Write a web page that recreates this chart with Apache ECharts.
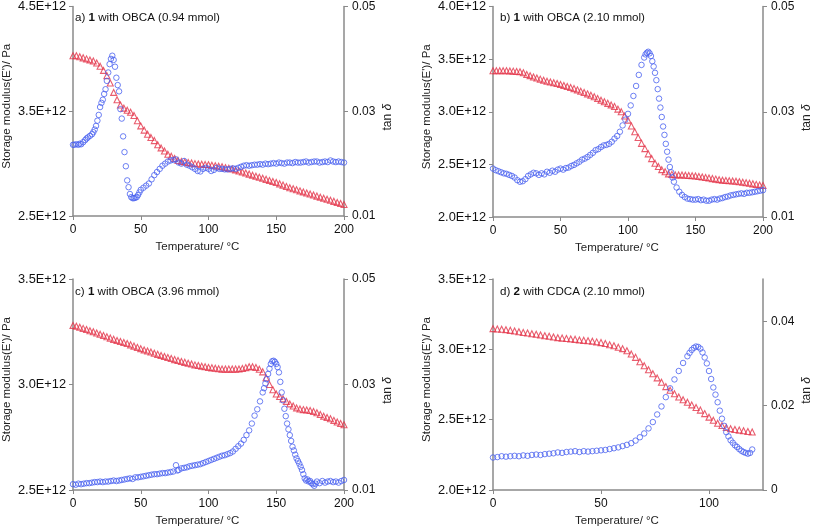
<!DOCTYPE html>
<html>
<head>
<meta charset="utf-8">
<script src="https://cdn.jsdelivr.net/npm/echarts@6/dist/echarts.min.js"></script>
<style>
html,body{margin:0;padding:0;background:#fff;}
#c{width:814px;height:528px;}
</style>
</head>
<body>
<div id="c"></div>
<script>
// ---- Panel a: 1 with OBCA (0.94 mmol) ----
const aT_E = [0,2.5,5,7.5,10,12.5,15,17.5,20,22.5,25,27.5,30,32.5,35,37.5,40,42.5,45,47.5,50,52.5,55,57.5,60,62.5,65,67.5,70,72.5,75,77.5,80,82.5,85,87.5,90,92.5,95,97.5,100,102.5,105,107.5,110,112.5,115,117.5,120,122.5,125,127.5,130,132.5,135,137.5,140,142.5,145,147.5,150,152.5,155,157.5,160,162.5,165,167.5,170,172.5,175,177.5,180,182.5,185,187.5,190,192.5,195,197.5,200];
const aE   = [4.03,4.03,4.02,4.01,4.00,3.99,3.98,3.96,3.93,3.89,3.84,3.77,3.68,3.61,3.56,3.53,3.51,3.49,3.46,3.41,3.36,3.32,3.28,3.25,3.22,3.18,3.15,3.12,3.09,3.07,3.05,3.03,3.02,3.015,3.01,3.005,3.00,2.997,2.995,2.992,2.99,2.985,2.98,2.975,2.97,2.962,2.955,2.948,2.94,2.93,2.92,2.91,2.90,2.89,2.88,2.87,2.86,2.85,2.84,2.83,2.82,2.807,2.795,2.782,2.77,2.76,2.75,2.74,2.73,2.72,2.71,2.70,2.69,2.68,2.67,2.66,2.65,2.64,2.63,2.62,2.61];
const aT_tan = [0,1,2.5,4,5,6,7.5,9,10,11,12.5,14,15,16,17,18,19,20,21,22,23,24,25,26,27,28,29,30,31,32,33,34,35,36,37,38,39,40,41,42,43,44,45,46,47,48,49,50,52,54,56,58,60,62,64,66,68,70,72,74,76,78,80,82,84,86,88,90,92,94,96,98,100,102,104,106,108,110,112,114,116,118,120,122,124,126,128,130,132,134,136,138,140,142,144,146,148,150,152,154,156,158,160,162,164,166,168,170,172,174,176,178,180,182,184,186,188,190,192,194,196,198,200];
const aTan   = [0.0236,0.0236,0.0237,0.0236,0.0238,0.0237,0.0241,0.0245,0.0248,0.0250,0.0253,0.0256,0.0260,0.0265,0.0272,0.0282,0.0293,0.0308,0.0316,0.0322,0.0333,0.0342,0.0358,0.0374,0.0390,0.0400,0.0406,0.0398,0.0385,0.0364,0.0350,0.0338,0.0304,0.0286,0.0252,0.0222,0.0195,0.0168,0.0155,0.0142,0.0136,0.0134,0.0134,0.0135,0.0136,0.0140,0.0145,0.0150,0.0154,0.0158,0.0162,0.0170,0.0178,0.0184,0.0190,0.0196,0.0200,0.0204,0.0206,0.0207,0.0208,0.0202,0.0200,0.0205,0.0198,0.0196,0.0193,0.0190,0.0186,0.0185,0.0190,0.0192,0.0190,0.0186,0.0188,0.0192,0.0190,0.0190,0.0189,0.0189,0.0190,0.0191,0.0190,0.0192,0.0194,0.0196,0.0197,0.0196,0.0197,0.0198,0.0198,0.0199,0.0198,0.0200,0.0199,0.0200,0.0201,0.0200,0.0202,0.0201,0.0200,0.0202,0.0202,0.0201,0.0203,0.0202,0.0202,0.0203,0.0204,0.0202,0.0203,0.0204,0.0204,0.0202,0.0203,0.0204,0.0203,0.0206,0.0204,0.0203,0.0204,0.0203,0.0202];

// ---- Panel b: 1 with OBCA (2.10 mmol) ----
const bT_E = [0,2.5,5,7.5,10,12.5,15,17.5,20,22.5,25,27.5,30,32.5,35,37.5,40,42.5,45,47.5,50,52.5,55,57.5,60,62.5,65,67.5,70,72.5,75,77.5,80,82.5,85,87.5,90,92.5,95,97.5,100,102.5,105,107.5,110,112.5,115,117.5,120,122.5,125,127.5,130,132.5,135,137.5,140,142.5,145,147.5,150,152.5,155,157.5,160,162.5,165,167.5,170,172.5,175,177.5,180,182.5,185,187.5,190,192.5,195,197.5,200];
const bE   = [3.39,3.39,3.39,3.39,3.39,3.388,3.386,3.383,3.38,3.37,3.355,3.343,3.33,3.32,3.31,3.30,3.29,3.283,3.275,3.268,3.26,3.25,3.24,3.23,3.22,3.208,3.195,3.183,3.17,3.157,3.143,3.127,3.11,3.095,3.08,3.065,3.05,3.025,3.00,2.96,2.92,2.865,2.81,2.755,2.70,2.65,2.60,2.555,2.51,2.48,2.45,2.43,2.41,2.405,2.40,2.40,2.40,2.397,2.395,2.392,2.39,2.385,2.38,2.375,2.37,2.365,2.36,2.355,2.35,2.347,2.345,2.342,2.34,2.335,2.33,2.325,2.32,2.315,2.31,2.305,2.30];
const bT_tan = [0,2,4,6,8,10,12,14,16,18,20,22,24,26,28,30,32,34,36,38,40,42,44,46,48,50,52,54,56,58,60,62,64,66,68,70,72,74,76,78,80,82,84,86,88,90,92,94,96,98,100,102,104,106,108,110,112,113,114,115,116,117,118,119,120,121,122,123,124,125,126,127,128,129,130,131,132,133,134,136,138,140,142,144,146,148,150,152,154,156,158,160,162,164,166,168,170,172,174,176,178,180,182,184,186,188,190,192,194,196,198,200];
const bTan   = [0.0192,0.0189,0.0187,0.0185,0.0183,0.0182,0.0180,0.0178,0.0175,0.0170,0.0167,0.0168,0.0172,0.0178,0.0181,0.0184,0.0183,0.0180,0.0183,0.0181,0.0186,0.0184,0.0188,0.0186,0.0190,0.0192,0.0190,0.0193,0.0194,0.0197,0.0199,0.0202,0.0205,0.0209,0.0211,0.0214,0.0218,0.0222,0.0227,0.0229,0.0233,0.0236,0.0237,0.0239,0.0243,0.0249,0.0254,0.0262,0.0274,0.0285,0.0296,0.0312,0.0330,0.0349,0.0370,0.0389,0.0403,0.0409,0.0412,0.0414,0.0411,0.0406,0.0396,0.0386,0.0374,0.0360,0.0343,0.0325,0.0308,0.0290,0.0272,0.0256,0.0239,0.0224,0.0209,0.0195,0.0185,0.0175,0.0167,0.0156,0.0148,0.0142,0.0138,0.0135,0.0134,0.0133,0.0133,0.0134,0.0132,0.0133,0.0131,0.0131,0.0133,0.0134,0.0133,0.0135,0.0136,0.0138,0.0139,0.0141,0.0142,0.0143,0.0144,0.0145,0.0144,0.0146,0.0146,0.0147,0.0148,0.0149,0.0150,0.0151];

// ---- Panel c: 1 with OBCA (3.96 mmol) ----
const cT_E = [0,2.5,5,7.5,10,12.5,15,17.5,20,22.5,25,27.5,30,32.5,35,37.5,40,42.5,45,47.5,50,52.5,55,57.5,60,62.5,65,67.5,70,72.5,75,77.5,80,82.5,85,87.5,90,92.5,95,97.5,100,102.5,105,107.5,110,112.5,115,117.5,120,122.5,125,127.5,130,132.5,135,137.5,140,142.5,145,147.5,150,152.5,155,157.5,160,162.5,165,167.5,170,172.5,175,177.5,180,182.5,185,187.5,190,192.5,195,197.5,200];
const cE   = [3.280,3.276,3.271,3.266,3.261,3.255,3.250,3.244,3.238,3.232,3.226,3.220,3.214,3.209,3.204,3.199,3.194,3.188,3.182,3.176,3.170,3.164,3.159,3.154,3.148,3.143,3.138,3.133,3.128,3.123,3.118,3.114,3.109,3.105,3.101,3.097,3.093,3.090,3.087,3.084,3.081,3.079,3.077,3.075,3.073,3.073,3.073,3.073,3.073,3.074,3.076,3.080,3.084,3.084,3.081,3.072,3.060,3.032,3.000,2.975,2.955,2.943,2.932,2.920,2.908,2.898,2.889,2.884,2.881,2.879,2.877,2.872,2.866,2.858,2.850,2.844,2.838,2.830,2.822,2.815,2.809];
const cT_tan = [0,2,4,6,8,10,12,14,16,18,20,22,24,26,28,30,32,34,36,38,40,42,44,46,48,50,52,54,56,58,60,62,64,66,68,70,72,74,76,77,78,80,82,84,86,88,90,92,94,96,98,100,102,104,106,108,110,112,114,116,118,120,122,124,126,128,130,132,134,136,138,140,141,142,143,144,145,146,147,148,149,150,151,152,153,154,155,156,157,158,159,160,161,162,163,164,165,166,167,168,169,170,171,172,173,174,175,176,177,178,179,180,182,184,186,188,190,192,194,196,198,200];
const cTan   = [0.0111,0.0110,0.0112,0.0111,0.0112,0.0113,0.0113,0.0114,0.0115,0.0115,0.0116,0.0115,0.0116,0.0116,0.0117,0.0118,0.0117,0.0118,0.0119,0.0120,0.0121,0.0122,0.0121,0.0124,0.0124,0.0125,0.0126,0.0127,0.0128,0.0129,0.0130,0.0130,0.0131,0.0132,0.0132,0.0133,0.0134,0.0135,0.0147,0.0137,0.0138,0.0141,0.0142,0.0143,0.0145,0.0146,0.0147,0.0148,0.0149,0.0151,0.0153,0.0155,0.0157,0.0159,0.0161,0.0163,0.0165,0.0166,0.0168,0.0170,0.0173,0.0178,0.0183,0.0188,0.0195,0.0204,0.0213,0.0226,0.0241,0.0253,0.0268,0.0285,0.0293,0.0302,0.0310,0.0320,0.0330,0.0339,0.0344,0.0345,0.0343,0.0339,0.0333,0.0323,0.0305,0.0285,0.0270,0.0254,0.0240,0.0226,0.0215,0.0204,0.0193,0.0182,0.0175,0.0167,0.0160,0.0155,0.0150,0.0144,0.0138,0.0130,0.0122,0.0118,0.0120,0.0116,0.0117,0.0113,0.0111,0.0108,0.0112,0.0116,0.0113,0.0117,0.0114,0.0116,0.0117,0.0115,0.0116,0.0114,0.0117,0.0119];

// ---- Panel d: 2 with CDCA (2.10 mmol) ----
const dT_E = [0,2,4,6,8,10,12,14,16,18,20,22,24,26,28,30,32,34,36,38,40,42,44,46,48,50,52,54,56,58,60,62,64,66,68,70,72,74,76,78,80,82,84,86,88,90,92,94,96,98,100,102,104,106,108,110,112,114,116,118,120];
const dE   = [3.147,3.145,3.143,3.140,3.135,3.130,3.125,3.120,3.116,3.111,3.107,3.102,3.097,3.093,3.088,3.083,3.080,3.077,3.074,3.071,3.067,3.064,3.061,3.058,3.053,3.048,3.041,3.033,3.025,3.015,3.005,2.990,2.967,2.943,2.912,2.883,2.855,2.826,2.797,2.766,2.735,2.709,2.684,2.661,2.642,2.624,2.605,2.586,2.568,2.543,2.518,2.496,2.474,2.458,2.445,2.436,2.430,2.426,2.421,2.416,2.412];
const dT_tan = [0,2,4,6,8,10,12,14,16,18,20,22,24,26,28,30,32,34,36,38,40,42,44,46,48,50,52,54,56,58,60,62,64,66,68,70,72,74,76,78,80,82,84,86,88,90,91,92,93,94,95,96,97,98,99,100,101,102,103,104,105,106,107,108,109,110,111,112,113,114,115,116,117,118,119,120];
const dTan   = [0.0077,0.0078,0.0080,0.0079,0.0080,0.0081,0.0080,0.0082,0.0081,0.0083,0.0084,0.0083,0.0085,0.0086,0.0087,0.0089,0.0088,0.0090,0.0091,0.0092,0.0090,0.0092,0.0091,0.0092,0.0093,0.0094,0.0095,0.0097,0.0099,0.0101,0.0104,0.0107,0.0111,0.0117,0.0125,0.0134,0.0146,0.0161,0.0179,0.0198,0.0220,0.0241,0.0262,0.0282,0.0301,0.0317,0.0325,0.0332,0.0337,0.0340,0.0339,0.0335,0.0326,0.0314,0.0300,0.0282,0.0263,0.0243,0.0226,0.0208,0.0188,0.0169,0.0152,0.0137,0.0127,0.0118,0.0112,0.0106,0.0102,0.0097,0.0093,0.0090,0.0088,0.0086,0.0088,0.0096];

const panels = [
  {lbl:'a)', num:'1', rest:' with OBCA (0.94 mmol)', tE:aT_E, E:aE, tT:aT_tan, T:aTan,
   grid:{left:68,top:5,width:276,height:211}, xMax:200, eMin:2.5, eMax:4.5, eInt:1, tMin:0.01, tMax:0.05, tInt:0.02},
  {lbl:'b)', num:'1', rest:' with OBCA (2.10 mmol)', tE:bT_E, E:bE, tT:bT_tan, T:bTan,
   grid:{left:493,top:5,width:278,height:212}, xMax:200, eMin:2.0, eMax:4.0, eInt:0.5, tMin:0.01, tMax:0.05, tInt:0.02},
  {lbl:'c)', num:'1', rest:' with OBCA (3.96 mmol)', tE:cT_E, E:cE, tT:cT_tan, T:cTan,
   grid:{left:68,top:279,width:276,height:212}, xMax:200, eMin:2.5, eMax:3.5, eInt:0.5, tMin:0.01, tMax:0.05, tInt:0.02},
  {lbl:'d)', num:'2', rest:' with CDCA (2.10 mmol)', tE:dT_E, E:dE, tT:dT_tan, T:dTan,
   grid:{left:493,top:279,width:279,height:212}, xMax:125, eMin:2.0, eMax:3.5, eInt:0.5, tMin:0, tMax:0.05, tInt:0.02}
];

const FONT = 'Liberation Sans, Arial, sans-serif';
const AX = '#8a8a8a';
const RED = '#e3344a';
const BLUE = '#4a62f0';

const option = {backgroundColor:'#fff', animation:false, grid:[], xAxis:[], yAxis:[], series:[], title:[]};

panels.forEach((p,i)=>{
  option.grid.push(Object.assign({containLabel:false}, p.grid));
  option.xAxis.push({
    type:'value', gridIndex:i, min:0, max:p.xMax, interval:50,
    name:'Temperature/ °C', nameLocation:'middle', nameGap:25,
    nameTextStyle:{fontFamily:FONT, fontSize:11.5, color:'#222', padding:[0,22,0,0]},
    axisLine:{show:true, onZero:false, lineStyle:{color:AX, width:1.5}},
    axisTick:{show:true, length:4, lineStyle:{color:AX}},
    axisLabel:{fontFamily:FONT, fontSize:12, color:'#111', margin:8, showMaxLabel: p.xMax===200},
    splitLine:{show:false}
  });
  option.yAxis.push({
    type:'value', gridIndex:i, position:'left', min:p.eMin, max:p.eMax, interval:p.eInt,
    name:"Storage modulus(E')/ Pa", nameLocation:'middle', nameGap:60, nameRotate:90,
    nameTextStyle:{fontFamily:FONT, fontSize:11.5, color:'#222', padding:[0,0,0,10]},
    axisLine:{show:true, lineStyle:{color:AX, width:1.5}},
    axisTick:{show:true, length:4, lineStyle:{color:AX}},
    axisLabel:{fontFamily:FONT, fontSize:12.8, color:'#111', margin:7, formatter:v=>v.toFixed(1)+'E+12'},
    splitLine:{show:false}
  });
  option.yAxis.push({
    type:'value', gridIndex:i, position:'right', min:p.tMin, max:p.tMax, interval:p.tInt,
    name:'{n|tan }{d|δ}', nameLocation:'middle', nameGap:38, nameRotate:90,
    nameTextStyle:{fontFamily:FONT, fontSize:12, color:'#222', padding:[0,12,0,0], rich:{n:{fontFamily:FONT,fontSize:12,color:'#222'}, d:{fontFamily:FONT,fontSize:12,color:'#222',fontStyle:'italic'}}},
    axisLine:{show:true, lineStyle:{color:AX, width:1.5}},
    axisTick:{show:true, length:4, lineStyle:{color:AX}},
    axisLabel:{fontFamily:FONT, fontSize:12, color:'#111', margin:8, showMaxLabel: p.tMin!==0, formatter:v=>Math.abs(v)<1e-9?'0':v.toFixed(2)},
    splitLine:{show:false}
  });
  option.series.push({
    type:'scatter', xAxisIndex:i, yAxisIndex:2*i, symbol:'triangle', symbolSize:6,
    itemStyle:{color:'rgba(255,255,255,0)', borderColor:RED, borderWidth:1.1},
    data:p.tE.map((t,k)=>[t,p.E[k]]), z:2
  });
  option.series.push({
    type:'scatter', xAxisIndex:i, yAxisIndex:2*i+1, symbol:'circle', symbolSize:5.5,
    itemStyle:{color:'rgba(255,255,255,0)', borderColor:BLUE, borderWidth:1},
    data:p.tT.map((t,k)=>[t,p.T[k]]), z:3
  });
  option.title.push({
    text:'{a|'+p.lbl+' }{b|'+p.num+'}{a|'+p.rest+'}',
    left:p.grid.left+2, top:p.grid.top+2,
    textStyle:{fontWeight:'normal', rich:{a:{fontFamily:FONT,fontSize:11.6,color:'#111',fontWeight:'normal'}, b:{fontFamily:FONT,fontSize:11.6,color:'#111',fontWeight:'bold'}}}
  });
});

const chart = echarts.init(document.getElementById('c'), null, {renderer:'canvas'});
chart.setOption(option);
</script>
</body>
</html>
